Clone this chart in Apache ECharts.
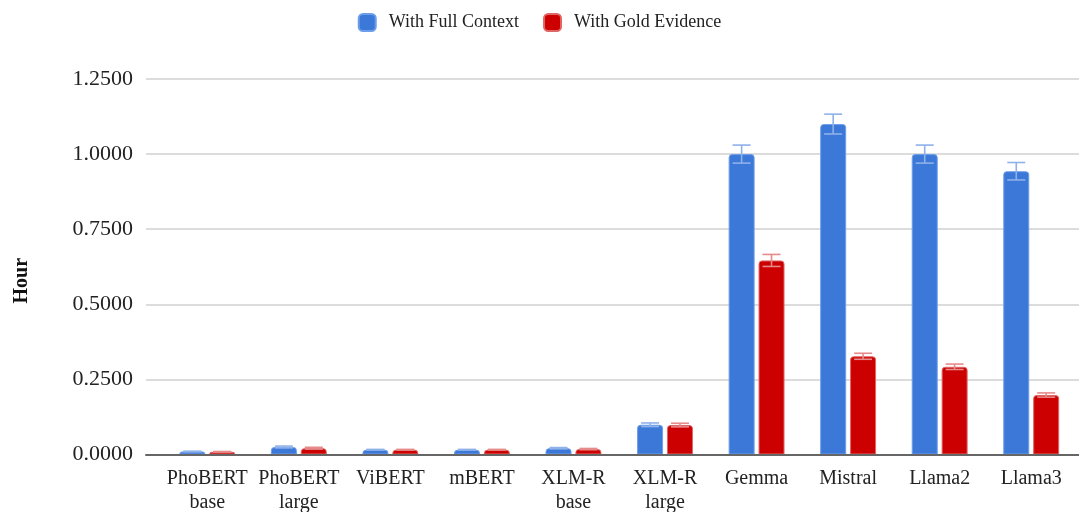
<!DOCTYPE html>
<html>
<head>
<meta charset="utf-8">
<script src="https://cdn.jsdelivr.net/npm/echarts@6/dist/echarts.min.js"></script>
<style>html,body{margin:0;padding:0;background:#fff;}#c{width:1079px;height:512px;}</style>
</head>
<body>
<div id="c"></div>
<script>
const categories = ['PhoBERT\nbase','PhoBERT\nlarge','ViBERT','mBERT','XLM-R\nbase','XLM-R\nlarge','Gemma','Mistral','Llama2','Llama3'];
const seriesNames = ['With Full Context','With Gold Evidence'];
const fullContext = [0.010, 0.025, 0.016, 0.016, 0.021, 0.099, 1.000, 1.100, 1.000, 0.943];
const goldEvidence = [0.009, 0.021, 0.016, 0.016, 0.018, 0.098, 0.646, 0.327, 0.292, 0.198];
const fullContextErr = [0.001, 0.003, 0.001, 0.001, 0.002, 0.006, 0.030, 0.033, 0.030, 0.029];
const goldEvidenceErr = [0.001, 0.003, 0.001, 0.001, 0.002, 0.006, 0.020, 0.010, 0.009, 0.007];
const yTicks = [0, 0.25, 0.5, 0.75, 1.0, 1.25];

const BAR_W = 26, GAP = 0.15;
const FONT = '"Liberation Serif", "Times New Roman", serif';

function errData(vals, errs) {
  return vals.map((v, i) => [i, v - errs[i], v + errs[i]]);
}
function errRender(offsetSign, color) {
  return function (params, api) {
    const c = api.coord([api.value(0), 0]);
    const x = c[0] + offsetSign * (BAR_W / 2 + BAR_W * GAP / 2);
    const yl = api.coord([api.value(0), api.value(1)])[1];
    const yh = api.coord([api.value(0), api.value(2)])[1];
    const hw = 9;
    const st = { stroke: color, lineWidth: 1.6 };
    return {
      type: 'group',
      children: [
        { type: 'line', shape: { x1: x, y1: yl, x2: x, y2: yh }, style: st },
        { type: 'line', shape: { x1: x - hw, y1: yh, x2: x + hw, y2: yh }, style: st },
        { type: 'line', shape: { x1: x - hw, y1: yl, x2: x + hw, y2: yl }, style: st }
      ]
    };
  };
}

const chart = echarts.init(document.getElementById('c'), null, { renderer: 'canvas' });
chart.setOption({
  animation: false,
  backgroundColor: '#ffffff',
  textStyle: { fontFamily: FONT },
  legend: {
    top: 8,
    left: 'center',
    itemWidth: 17,
    itemHeight: 17,
    itemGap: 24,
    data: seriesNames,
    textStyle: { fontFamily: FONT, fontSize: 18, color: '#222', padding: [0, 0, 0, 8] }
  },
  grid: [
    { left: 161.5, right: 2, top: 79, bottom: 57.5, outerBoundsMode: 'none', containLabel: false },
    { left: 146, right: 0, top: 79, bottom: 57.5, outerBoundsMode: 'none', containLabel: false }
  ],
  xAxis: [
    {
      type: 'category', gridIndex: 0, data: categories,
      axisLine: { show: false }, axisTick: { show: false },
      axisLabel: { fontFamily: FONT, fontSize: 20, color: '#222', margin: 12, lineHeight: 24, interval: 0 }
    },
    {
      type: 'value', gridIndex: 1, min: 0, max: 1, z: 5,
      axisLine: { show: true, lineStyle: { color: '#666', width: 2 } },
      axisTick: { show: false }, axisLabel: { show: false }, splitLine: { show: false }
    }
  ],
  yAxis: [
    {
      type: 'value', gridIndex: 0, min: 0, max: 1.25, interval: 0.25,
      axisLine: { show: false }, axisTick: { show: false }, axisLabel: { show: false }, splitLine: { show: false }
    },
    {
      type: 'value', gridIndex: 1, min: yTicks[0], max: yTicks[yTicks.length - 1], interval: 0.25,
      name: 'Hour', nameLocation: 'middle', nameGap: 114, nameRotate: 90,
      nameTextStyle: { fontFamily: FONT, fontSize: 20, fontWeight: 'bold', color: '#111', padding: [0, 0, 0, -28] },
      axisLine: { show: false }, axisTick: { show: false },
      axisLabel: { fontFamily: FONT, fontSize: 22, color: '#222', margin: 13, formatter: v => v.toFixed(4) },
      splitLine: { show: true, lineStyle: { color: '#d0d0d0', width: 1.5 } }
    }
  ],
  series: [
    {
      name: seriesNames[0], type: 'bar', xAxisIndex: 0, yAxisIndex: 0,
      data: fullContext, barWidth: BAR_W, barGap: (GAP * 100) + '%',
      itemStyle: { color: '#3c78d8', borderColor: '#6d9eeb', borderWidth: 1, borderRadius: [3, 3, 0, 0] }
    },
    {
      name: seriesNames[1], type: 'bar', xAxisIndex: 0, yAxisIndex: 0,
      data: goldEvidence, barWidth: BAR_W,
      itemStyle: { color: '#cc0000', borderColor: '#e06666', borderWidth: 1, borderRadius: [3, 3, 0, 0] }
    },
    {
      type: 'custom', xAxisIndex: 0, yAxisIndex: 0, z: 4,
      data: errData(fullContext, fullContextErr), renderItem: errRender(-1, '#8fb1ea'),
      silent: true, tooltip: { show: false }
    },
    {
      type: 'custom', xAxisIndex: 0, yAxisIndex: 0, z: 4,
      data: errData(goldEvidence, goldEvidenceErr), renderItem: errRender(1, '#e68a8a'),
      silent: true, tooltip: { show: false }
    }
  ]
});
</script>
</body>
</html>
